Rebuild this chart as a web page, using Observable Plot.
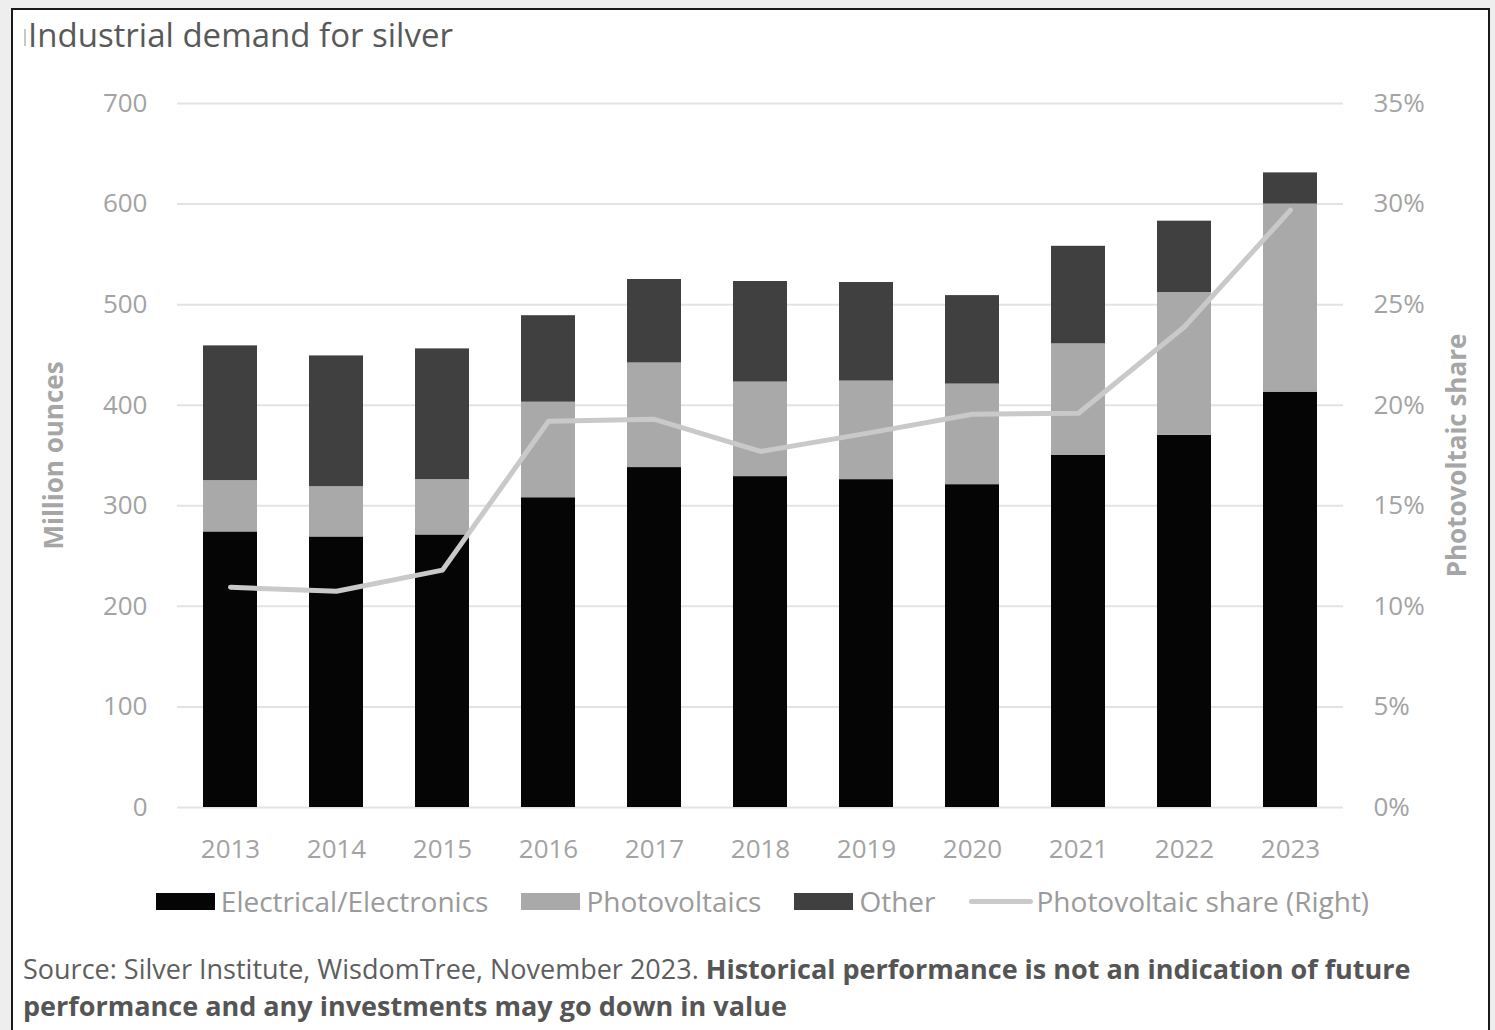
<!DOCTYPE html>
<html>
<head>
<meta charset="utf-8">
<script src="https://cdn.jsdelivr.net/npm/d3@7"></script>
<script src="https://cdn.jsdelivr.net/npm/@observablehq/plot@0.6"></script>
<style>
  html, body { margin: 0; padding: 0; }
  body { width: 1495px; height: 1030px; background: #eeeeee; position: relative; overflow: hidden; font-family: "Open Sans", sans-serif; }
  #frame { position: absolute; left: 11px; top: 8px; width: 1475px; height: 1040px; background: #fff; border: 2px solid #1a1a1a; }
  #title { position: absolute; left: 24px; top: 19px; font-size: 33px; line-height: 32px; color: #595959; white-space: nowrap; }
  #title .bar { display: inline-block; width: 2px; height: 17px; background: #c8c8c8; margin-right: 2px; vertical-align: 1px; }
  #chart { position: absolute; left: 0; top: 0; }
  #legend { position: absolute; left: 30px; top: 885px; width: 1465px; display: flex; justify-content: center; gap: 33px; font-size: 28px; line-height: 32px; color: #9a9a9a; white-space: nowrap; }
  #legend .item { display: flex; align-items: center; }
  #legend .sw { display: inline-block; width: 59px; height: 17px; margin-right: 6px; }
  #legend .ln { display: inline-block; width: 64px; height: 5px; margin-right: 4px; border-radius: 3px; }
  #caption { position: absolute; left: 23px; top: 950px; font-size: 27px; line-height: 37px; color: #5e5e5e; white-space: nowrap; }
  #caption b { color: #555; }
</style>
</head>
<body>
<div id="frame"></div>
<div id="title"><span class="bar"></span>Industrial demand for silver</div>
<div id="chart"></div>
<div id="legend"></div>
<div id="caption">Source: Silver Institute, WisdomTree, November 2023. <b>Historical performance is not an indication of future</b><br><b>performance and any investments may go down in value</b></div>
<script>
// Industrial silver demand by segment, million ounces
const years = ["2013", "2014", "2015", "2016", "2017", "2018", "2019", "2020", "2021", "2022", "2023"];
const electrical = [274, 269, 271, 308, 338, 329, 326, 321, 350, 370, 413];
const photovoltaics = [51, 50, 55, 95, 104, 94, 98, 100, 111, 142, 187];
const other = [134, 130, 130, 86, 83, 100, 98, 88, 97, 71, 31];
// Photovoltaic share of industrial demand, % (right axis)
const pvShare = [10.95, 10.75, 11.8, 19.2, 19.3, 17.7, 18.6, 19.55, 19.6, 23.9, 29.7];

const seriesNames = ["Electrical/Electronics", "Photovoltaics", "Other"];
const seriesColors = ["#050505", "#a9a9a9", "#404040"];
const lineName = "Photovoltaic share (Right)";
const lineColor = "#c9c9c9";

const yTicks = [0, 100, 200, 300, 400, 500, 600, 700];
const leftMax = 700;
const rightMax = 35;
const shareScale = leftMax / rightMax; // maps % onto the ounce axis

const stacked = [];
[electrical, photovoltaics, other].forEach((vals, s) => {
  vals.forEach((v, i) => stacked.push({year: years[i], series: seriesNames[s], value: v}));
});
const shareRows = years.map((y, i) => ({year: y, share: pvShare[i]}));

const gray = "#a3a3a3";

const chart = Plot.plot({
  width: 1495,
  height: 880,
  marginTop: 103,
  marginBottom: 73,
  marginLeft: 177,
  marginRight: 152,
  style: {fontFamily: "Open Sans, sans-serif", fontSize: "26px", color: gray, background: "transparent", overflow: "visible"},
  x: {type: "band", domain: years, paddingInner: 0.49, paddingOuter: 0.245, label: null},
  y: {domain: [0, leftMax], label: null},
  color: {domain: seriesNames, range: seriesColors},
  marks: [
    Plot.ruleY(yTicks, {stroke: "#e3e3e3", strokeWidth: 2}),
    Plot.barY(stacked, {x: "year", y: "value", fill: "series", order: seriesNames}),
    Plot.line(shareRows, {x: "year", y: d => d.share * shareScale, stroke: lineColor, strokeWidth: 5}),
    Plot.axisX({tickSize: 0, tickPadding: 32, fill: gray}),
    Plot.axisY(yTicks, {anchor: "left", tickSize: 0, tickPadding: 30, label: null, fill: gray}),
    Plot.axisY(yTicks, {anchor: "right", tickSize: 0, tickPadding: 30, label: null, fill: gray,
      tickFormat: d => `${d / shareScale}%`}),
    Plot.text(["Million ounces"], {frameAnchor: "left", textAnchor: "middle", rotate: -90, dx: -123,
      fill: "#a6a6a6", fontWeight: "bold", fontSize: 26}),
    Plot.text(["Photovoltaic share"], {frameAnchor: "right", textAnchor: "middle", rotate: -90, dx: 114,
      fill: "#a6a6a6", fontWeight: "bold", fontSize: 26})
  ]
});
document.getElementById("chart").appendChild(chart);

// Legend row below the plot
const legend = document.getElementById("legend");
seriesNames.forEach((name, i) => {
  const item = document.createElement("div");
  item.className = "item";
  item.innerHTML = `<span class="sw" style="background:${seriesColors[i]}"></span><span>${name}</span>`;
  legend.appendChild(item);
});
const lineItem = document.createElement("div");
lineItem.className = "item";
lineItem.innerHTML = `<span class="ln" style="background:${lineColor}"></span><span>${lineName}</span>`;
legend.appendChild(lineItem);
</script>
</body>
</html>
